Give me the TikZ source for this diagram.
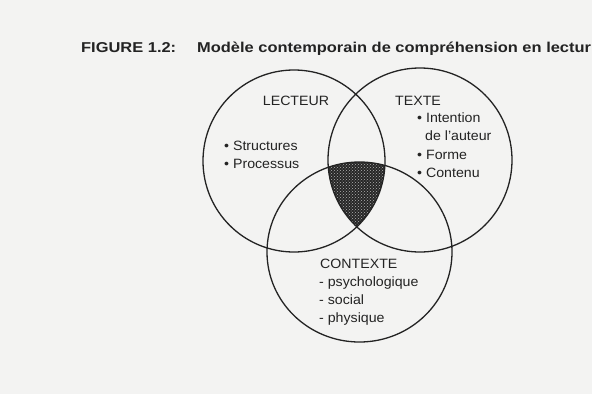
\documentclass[tikz,border=0pt]{standalone}
\usepackage{fontspec}
\setmainfont[FakeStretch=1.05]{Liberation Sans}
\newfontfamily\titlefont[FakeStretch=1.15]{Liberation Sans}
\usetikzlibrary{patterns}
\definecolor{paper}{RGB}{243,243,242}
\definecolor{ink}{RGB}{35,35,35}
\begin{document}
\begin{tikzpicture}[x=1pt,y=-1pt,
  ring/.style={draw=ink,line width=1.3pt},
  lbl/.style={inner sep=0pt,text=ink,font=\fontsize{13.5}{18}\selectfont},
  ttl/.style={inner sep=0pt,text=ink,font=\titlefont\bfseries\fontsize{14.3}{17}\selectfont,anchor=base west}]
\useasboundingbox (0,0) rectangle (592,394);
\fill[paper] (0,0) rectangle (592,394);
\coordinate (cL) at (294,161);
\coordinate (cT) at (420,160);
\coordinate (cC) at (359.5,252);
% shaded common region
\begin{scope}
  \clip (cL) circle[radius=91pt];
  \clip (cT) circle[radius=92pt];
  \fill[black!85] (cC) ellipse[x radius=92.5pt,y radius=90pt];
  \fill[pattern=crosshatch dots,pattern color=white!70!black] (cC) ellipse[x radius=92.5pt,y radius=90pt];
\end{scope}
\draw[ring] (cL) circle[radius=91pt];
\draw[ring] (cT) circle[radius=92pt];
\draw[ring] (cC) ellipse[x radius=92.5pt,y radius=90pt];
% title
\node[ttl] (fig) at (81,52.5) {FIGURE 1.2:};
\node[ttl] (title) at (197,52.5) {Modèle contemporain de compréhension en lectur};
% LECTEUR
\node[lbl,anchor=base] (lect) at (296,105.5) {LECTEUR};
\node[lbl,anchor=base west] (l1) at (224,150) {• Structures};
\node[lbl,anchor=base west] (l2) at (224,168) {• Processus};
% TEXTE
\node[lbl,anchor=base west] (txt) at (395,105) {TEXTE};
\node[lbl,anchor=base west] (t1) at (417,122) {• Intention};
\node[lbl,anchor=base west] (t2) at (425,140) {de l'auteur};
\node[lbl,anchor=base west] (t3) at (417,159) {• Forme};
\node[lbl,anchor=base west] (t4) at (417,177) {• Contenu};
% CONTEXTE
\node[lbl,anchor=base west] (ctx) at (320,268) {CONTEXTE};
\node[lbl,anchor=base west] (c1) at (319,286.5) {- psychologique};
\node[lbl,anchor=base west] (c2) at (319,304.5) {- social};
\node[lbl,anchor=base west] (c3) at (319,322.5) {- physique};
\end{tikzpicture}
\end{document}
